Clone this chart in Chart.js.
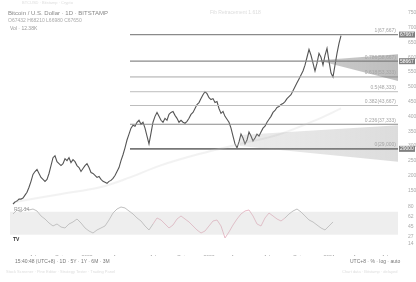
<!DOCTYPE html>
<html><head><meta charset="utf-8">
<script src="https://cdn.jsdelivr.net/npm/chart.js@4.4.1/dist/chart.umd.min.js"></script>
<style>
html,body{margin:0;padding:0;background:#fff;}
#wrap{position:relative;width:416px;height:282px;overflow:hidden;font-family:"Liberation Sans","DejaVu Sans",sans-serif;}
canvas{position:absolute;left:0;}
.t{position:absolute;white-space:nowrap;line-height:1;}
</style></head><body>
<div id="wrap">
<canvas id="main" width="416" height="210" style="top:0"></canvas>
<canvas id="osc" width="416" height="56" style="top:200px"></canvas>
<div class="t" style="left:22px;top:1px;font-size:4px;color:#ddd">BTCUSD · Bitstamp · Crypto</div>
<div class="t" style="left:8px;top:10px;font-size:6px;color:#888">Bitcoin / U.S. Dollar · 1D · BITSTAMP</div>
<div class="t" style="left:8px;top:18px;font-size:5px;color:#aaa">O67432 H68210 L66980 C67650</div>
<div class="t" style="left:10px;top:26px;font-size:5px;color:#999">Vol · 12.38K</div>
<div class="t" style="left:210px;top:10px;font-size:5px;color:#ddd">Fib Retracement 1.618</div>
<div class="t" style="left:14px;top:207px;font-size:5px;color:#999">RSI 14</div>
<div class="t" style="left:13px;top:237px;font-size:5px;color:#333;font-weight:bold">TV</div>
<div class="t" style="left:15px;top:259px;font-size:5px;color:#777">15:40:48 (UTC+8) · 1D · 5Y · 1Y · 6M · 3M</div>
<div class="t" style="left:350px;top:259px;font-size:5px;color:#777">UTC+8 · % · log · auto</div>
<div class="t" style="left:6px;top:270px;font-size:4px;color:#ddd">Stock Screener · Pine Editor · Strategy Tester · Trading Panel</div>
<div class="t" style="left:342px;top:270px;font-size:4px;color:#ddd">Chart data · Bitstamp · delayed</div>
</div>
<script>
// ---- data ----
const barStart = 0;
const priceValues = [10333,11000,11333,12000,12000,12333,13333,14333,16000,18000,20333,21333,22000,20667,19333,18667,18000,18667,20667,23333,26000,26667,24667,24000,23333,24000,25667,25000,26000,24333,25333,24667,23333,22667,21333,22333,23333,24000,22667,21000,20667,20000,19333,19667,18667,18000,17667,17333,18000,18333,19000,20000,21333,22667,25000,27000,29333,32000,34000,36000,37000,36667,38000,38667,37333,38000,36000,33333,30667,34333,38000,40000,41333,40000,38667,38000,39333,38667,40667,41333,41667,40333,39333,38000,38667,38000,37667,38333,39333,40667,41333,42667,44000,44667,46000,47333,48333,47667,46333,45667,46000,44667,45000,42667,41000,41667,40000,39000,38000,36000,33333,30667,29333,31333,34000,32667,30667,32000,34667,33333,31667,32667,34000,33333,34667,36000,36667,38000,39000,40000,41333,42000,43000,43333,44000,44333,45000,46000,46667,47333,48667,50000,51333,52667,54000,55333,57333,60000,62667,60667,58000,55333,58000,61333,60000,57333,60667,63000,58667,54667,53333,57333,61333,64667,67333];
const maValues = [[1,11000],[23.5,13667],[43.5,16000],[58.5,19333],[73.5,23333],[93.5,27333],[113.5,30667],[133.5,34000],[153.5,39333],[164,42667]];
const fibLevels = [67667,58667,53333,48333,43667,37333,29000];
const fibRatios = ["1","0.786","0.618","0.5","0.382","0.236","0"];
const fibStartBar = 58.5;
const upperConeTop = [[153.5,59000],[192.5,61000]];
const upperConeBottom = [[153.5,58700],[192.5,52000]];
const lowerConeTop = [[113.5,33667],[192.5,37000]];
const lowerConeBottom = [[113.5,30000],[192.5,24667]];
const priceTicks = [15000,20000,25000,30000,35000,40000,45000,50000,55000,60000,65000,70000,75000];
const rsiValues = [66.3,73.3,69.8,76.8,73.3,75,71.5,62.8,57.5,50.5,45.3,48.8,43.5,41.8,48.8,52.3,57.5,50.5,41.8,36.5,33,38.3,41.8,45.3,55.8,68,75,78.5,76.8,71.5,66.3,59.3,54,45.3,38.3,48.8,59.3,55.8,48.8,41.8,47,57.5,62.8,57.5,52.3,45.3,38.3,33,36.5,45.3,54,55.8,45.3,24.3,34.8,47,57.5,66.3,71.5,73.3,62.8,48.8,45.3,59.3,68,62.8,57.5,54,59.3,66.3,71.5,75,69.8,62.8,55.8,52.3,47,41.8,38.3,45.3,52.3];
const rsiBarStep = 2;
const rsiBandHigh = 70, rsiBandLow = 30;
const rsiTicks = [80,62,45,27,14];
const monthTickBars = [10,23,37,52,70,84,98,111,127,142,158,172,186];
const monthLabels = ["Jul","Oct","2022","Apr","Jul","Oct","2023","Apr","Jul","Oct","2024","Apr","Jul"];
const xMin = -1.5, xMax = 192.5;

const FONT = '"Liberation Sans","DejaVu Sans",sans-serif';
const pricePts = priceValues.map((v,i)=>({x:barStart+i,y:v}));
const pairPts = a => a.map(p=>({x:p[0],y:p[1]}));
const fibColors = ['#8a8a8a','#8a8a8a','#a8a8a8','#bdbdbd','#bdbdbd','#8a8a8a','#777'];
const fibWidths = [1.2,1.2,1,1,1,1.2,1.6];

function hGrad(ctx, area, c0, c1){
  if(!area) return c1;
  const g = ctx.createLinearGradient(area.left,0,area.right,0);
  g.addColorStop(0,c0); g.addColorStop(1,c1); return g;
}

const datasets = [];
datasets.push({data:pairPts(upperConeTop),borderWidth:0,pointRadius:0,fill:false});
datasets.push({data:pairPts(upperConeBottom),borderWidth:0,pointRadius:0,fill:'-1',
  backgroundColor:c=>hGrad(c.chart.ctx,c.chart.chartArea,'rgba(120,120,120,0.05)','rgba(110,110,110,0.45)')});
datasets.push({data:pairPts(lowerConeTop),borderWidth:0,pointRadius:0,fill:false});
datasets.push({data:pairPts(lowerConeBottom),borderWidth:0,pointRadius:0,fill:'-1',
  backgroundColor:c=>hGrad(c.chart.ctx,c.chart.chartArea,'rgba(160,160,160,0.0)','rgba(140,140,140,0.3)')});
datasets.push({data:pairPts(maValues),borderColor:'rgba(205,205,205,0.25)',borderWidth:2,pointRadius:0,tension:0.4,fill:false});
fibLevels.forEach((lv,i)=>{
  datasets.push({data:[{x:fibStartBar,y:lv},{x:xMax,y:lv}],borderColor:fibColors[i],borderWidth:fibWidths[i],pointRadius:0,fill:false});
});
datasets.push({data:pricePts,borderColor:'#555',borderWidth:1.1,pointRadius:0,tension:0,fill:false});

const labelPlugin = {
  id:'fibLabels',
  afterDatasetsDraw(chart){
    const {ctx, scales:{x,y}} = chart;
    ctx.save();
    ctx.font = '5px '+FONT;
    ctx.textAlign='right'; ctx.textBaseline='bottom';
    fibLevels.forEach((lv,i)=>{
      ctx.fillStyle = '#a5a5a5';
      ctx.fillText(fibRatios[i]+'('+lv.toLocaleString('en-US')+')', x.getPixelForValue(191.5), y.getPixelForValue(lv)-1.5);
    });
    [0,1,6].forEach(i=>{
      const py = y.getPixelForValue(fibLevels[i]);
      ctx.fillStyle = '#808080';
      ctx.fillRect(x.right+1, py-3, 16, 6);
      ctx.fillStyle = '#fff'; ctx.textAlign='left'; ctx.textBaseline='middle';
      ctx.fillText(String(fibLevels[i]), x.right+2, py);
    });
    ctx.restore();
  }
};

new Chart(document.getElementById('main'),{
  type:'line',
  data:{datasets},
  plugins:[labelPlugin],
  options:{
    responsive:false, animation:false, devicePixelRatio:1,
    layout:{padding:{left:10,top:8,right:0,bottom:2}},
    plugins:{legend:{display:false},tooltip:{enabled:false}},
    scales:{
      x:{type:'linear',min:xMin,max:xMax,display:false},
      y:{type:'linear',position:'right',min:10000,max:76667,
        afterFit:s=>{s.width=18;},
        afterBuildTicks:a=>{a.ticks=priceTicks.map(v=>({value:v}));},
        grid:{display:false},border:{display:false},
        ticks:{font:{size:5,family:FONT},color:'#aaa',padding:2,callback:v=>String(v)}}
    }
  }
});

const rsiPts = rsiValues.map((v,i)=>({x:barStart+i*rsiBarStep,y:v}));
new Chart(document.getElementById('osc'),{
  type:'line',
  data:{datasets:[
    {data:[{x:xMin,y:rsiBandHigh},{x:xMax,y:rsiBandHigh}],borderWidth:0,pointRadius:0,fill:false},
    {data:[{x:xMin,y:rsiBandLow},{x:xMax,y:rsiBandLow}],borderWidth:0,pointRadius:0,fill:'-1',backgroundColor:'rgba(200,200,200,0.3)'},
    {data:rsiPts,borderWidth:1,pointRadius:0,fill:false,borderColor:'#aaa',
      segment:{borderColor:c=>(c.p0.parsed.x>68 && c.p0.parsed.x<136)?'rgba(228,170,186,0.8)':'rgba(175,175,175,0.8)'}}
  ]},
  options:{
    responsive:false, animation:false, devicePixelRatio:1,
    layout:{padding:{left:10,top:5,right:0,bottom:0}},
    plugins:{legend:{display:false},tooltip:{enabled:false}},
    scales:{
      x:{type:'linear',min:xMin,max:xMax,
        afterFit:s=>{s.height=11;},
        afterBuildTicks:a=>{a.ticks=monthTickBars.map(v=>({value:v}));},
        grid:{display:false},border:{display:false},
        ticks:{font:{size:5,family:FONT},color:'#999',padding:2,maxRotation:0,autoSkip:false,
          callback:v=>monthLabels[monthTickBars.indexOf(v)]}},
      y:{type:'linear',position:'right',min:12,max:82,
        afterFit:s=>{s.width=18;},
        afterBuildTicks:a=>{a.ticks=rsiTicks.map(v=>({value:v}));},
        grid:{display:false},border:{display:false},
        ticks:{font:{size:5,family:FONT},color:'#aaa',padding:2}}
    }
  }
});
</script>
</body></html>
